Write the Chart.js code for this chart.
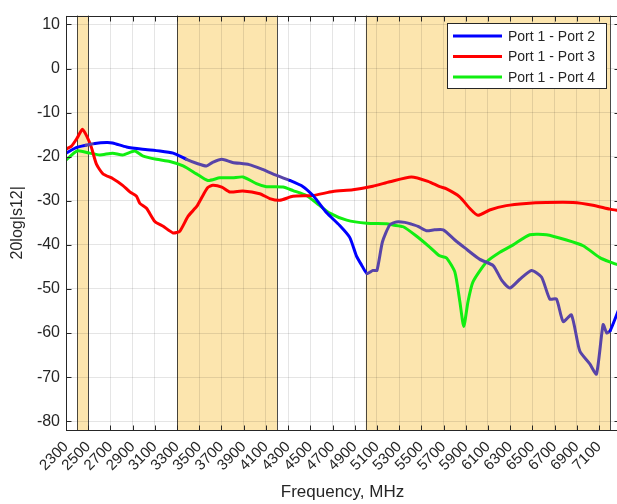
<!DOCTYPE html>
<html>
<head>
<meta charset="utf-8">
<script src="https://cdn.jsdelivr.net/npm/chart.js@4/dist/chart.umd.min.js"></script>
<style>
  html, body { margin: 0; padding: 0; background: #fff; overflow: hidden; }
  canvas { display: block; }
</style>
</head>
<body>
<canvas id="c" width="625" height="504"></canvas>
<script>
// frequency bands shaded in the plot (MHz)
const bands = [ [ 2400, 2500 ], [ 3300, 4200 ], [ 5000, 7200 ] ];

const xTicks = [];
for ( let f = 2300; f <= 7100; f += 200 ) xTicks.push( f );
const yTicks = [ -80, -70, -60, -50, -40, -30, -20, -10, 0, 10 ];

const p2Freq = [ 2300, 2397, 2480, 2560, 2665, 2720, 2845, 2990, 3145, 3265, 3385, 3475, 3565, 3620, 3703, 3800, 3950, 4070, 4162, 4315, 4435, 4525, 4560, 4650, 4765, 4855, 4915, 4960, 5010, 5065, 5100, 5150, 5215, 5275, 5352, 5410, 5470, 5545, 5620, 5697, 5802, 5892, 6027, 6147, 6223, 6297, 6387, 6492, 6582, 6657, 6717, 6777, 6852, 6927, 7017, 7077, 7137, 7170, 7200, 7280 ];
const p2Db = [ -19.2, -17.9, -17.4, -17.0, -16.8, -16.9, -17.8, -18.3, -18.7, -19.2, -20.6, -21.5, -22.1, -21.3, -20.6, -21.3, -21.8, -22.9, -23.9, -25.4, -26.8, -28.8, -29.9, -32.8, -35.6, -38.3, -42.5, -44.5, -46.5, -45.8, -45.8, -39.3, -35.5, -34.8, -34.9, -35.3, -35.8, -36.8, -36.6, -36.6, -38.9, -40.7, -43.3, -44.7, -48.0, -49.8, -47.8, -45.8, -47.3, -52.3, -52.3, -57.4, -55.9, -64.1, -67.0, -69.3, -58.1, -60.0, -59.5, -54.5 ];

const p3Freq = [ 2300, 2350, 2400, 2448, 2490, 2529, 2574, 2633, 2723, 2810, 2875, 2935, 2965, 3025, 3100, 3175, 3265, 3325, 3400, 3477, 3533, 3577, 3622, 3703, 3775, 3892, 4045, 4135, 4225, 4343, 4523, 4703, 4883, 5063, 5215, 5410, 5560, 5665, 5727, 5845, 5935, 6010, 6115, 6265, 6445, 6625, 6865, 7045, 7200, 7280 ];
const p3Db = [ -18.3, -17.6, -15.8, -13.8, -15.5, -17.9, -21.7, -23.9, -25.0, -26.5, -28.0, -29.0, -30.6, -31.7, -34.7, -35.8, -37.3, -36.9, -33.5, -31.3, -28.8, -27.0, -26.5, -26.9, -28.0, -27.8, -28.4, -29.5, -29.9, -29.0, -28.8, -27.9, -27.5, -26.7, -25.7, -24.6, -25.6, -26.8, -27.3, -29.1, -31.7, -33.3, -32.1, -31.1, -30.6, -30.4, -30.4, -31.0, -31.9, -32.2 ];

const p4Freq = [ 2300, 2400, 2515, 2605, 2720, 2810, 2920, 2990, 3115, 3235, 3355, 3475, 3577, 3685, 3800, 3895, 4015, 4105, 4255, 4345, 4465, 4580, 4675, 4828, 5008, 5188, 5245, 5337, 5455, 5575, 5665, 5727, 5802, 5847, 5882, 5920, 5965, 6087, 6207, 6327, 6477, 6627, 6807, 6957, 7107, 7200, 7280 ];
const p4Db = [ -20.8, -18.7, -19.2, -19.6, -19.2, -19.6, -18.7, -19.8, -20.6, -21.1, -22.1, -23.9, -25.4, -24.8, -24.8, -24.6, -26.1, -26.8, -26.9, -27.7, -28.8, -31.0, -32.8, -34.4, -35.1, -35.2, -35.5, -35.9, -38.0, -40.5, -42.5, -43.0, -46.2, -52.9, -58.5, -52.9, -48.4, -43.9, -41.7, -40.0, -37.7, -37.7, -38.9, -40.2, -42.9, -43.9, -44.6 ];

const names = [ 'Port 1 - Port 2', 'Port 1 - Port 3', 'Port 1 - Port 4' ];
const colors = [ '#0000ff', '#ff0000', '#11ee11' ];
const p2BandColor = '#5844a8';   // port 2 trace looks purple inside the shaded bands

const FONT = "'Liberation Sans', Arial, sans-serif";
const INK = '#262626';
const bandFill = '#fce5ae';

const pts = ( fs, vs ) => fs.map( ( f, i ) => ( { x: f, y: vs[ i ] } ) );
const inBand = f => bands.some( ( [ a, b ] ) => f >= a && f < b );

const shade = {
    id: 'shade',
    beforeDraw( chart ) {
        const { ctx, chartArea: a, scales: { x } } = chart;
        ctx.save();
        ctx.beginPath();
        ctx.rect( a.left, a.top, a.right - a.left, a.bottom - a.top );
        ctx.clip();
        ctx.fillStyle = bandFill;
        bands.forEach( ( [ b0, b1 ] ) => {
            const x0 = x.getPixelForValue( b0 );
            ctx.fillRect( x0, a.top, x.getPixelForValue( b1 ) - x0, a.bottom - a.top );
        } );
        ctx.restore();
    },
    beforeDatasetsDraw( chart ) {
        const { ctx, chartArea: a, scales: { x } } = chart;
        ctx.save();
        ctx.strokeStyle = 'rgba(30,30,30,0.8)';
        ctx.lineWidth = 1;
        ctx.beginPath();
        bands.forEach( b => b.forEach( v => {
            const px = Math.round( x.getPixelForValue( v ) ) + 0.5;
            if ( px > a.right ) return;
            ctx.moveTo( px, a.top );
            ctx.lineTo( px, a.bottom );
        } ) );
        ctx.stroke();
        ctx.restore();
    },
    afterDatasetsDraw( chart ) {
        const { ctx, chartArea: a, scales: { x, y } } = chart;

        // axes box and inward ticks
        ctx.save();
        ctx.strokeStyle = INK;
        ctx.lineWidth = 1;
        const L = Math.round( a.left ) + 0.5, R = Math.round( a.right ) + 0.5;
        const T = Math.round( a.top ) + 0.5, B = Math.round( a.bottom ) + 0.5;
        ctx.strokeRect( L, T, R - L, B - T );
        ctx.beginPath();
        x.ticks.forEach( t => {
            const px = Math.round( x.getPixelForValue( t.value ) ) + 0.5;
            ctx.moveTo( px, B ); ctx.lineTo( px, B - 5 );
            ctx.moveTo( px, T ); ctx.lineTo( px, T + 5 );
        } );
        y.ticks.forEach( t => {
            const py = Math.round( y.getPixelForValue( t.value ) ) + 0.5;
            ctx.moveTo( L, py ); ctx.lineTo( L + 5, py );
            ctx.moveTo( R, py ); ctx.lineTo( R - 5, py );
        } );
        ctx.stroke();

        // legend box
        const lx = 447.5, ly = 23.5, lw = 159, lh = 65;
        ctx.fillStyle = '#fff';
        ctx.fillRect( lx, ly, lw, lh );
        ctx.strokeStyle = INK;
        ctx.strokeRect( lx, ly, lw, lh );
        ctx.font = '14px ' + FONT;
        ctx.textBaseline = 'middle';
        ctx.textAlign = 'left';
        names.forEach( ( n, i ) => {
            const ry = 36 + i * 20.5;
            ctx.strokeStyle = colors[ i ];
            ctx.lineWidth = 3;
            ctx.beginPath();
            ctx.moveTo( 453, ry );
            ctx.lineTo( 502, ry );
            ctx.stroke();
            ctx.fillStyle = INK;
            ctx.fillText( n, 508, ry + 1 );
        } );
        ctx.restore();
    }
};

new Chart( document.getElementById( 'c' ), {
    type: 'line',
    data: {
        datasets: [
            {
                label: names[ 0 ],
                data: pts( p2Freq, p2Db ),
                borderColor: colors[ 0 ],
                segment: { borderColor: s => inBand( s.p0.parsed.x ) ? p2BandColor : colors[ 0 ] }
            },
            { label: names[ 1 ], data: pts( p3Freq, p3Db ), borderColor: colors[ 1 ] },
            { label: names[ 2 ], data: pts( p4Freq, p4Db ), borderColor: colors[ 2 ] }
        ]
    },
    options: {
        responsive: false,
        animation: false,
        events: [],
        layout: { padding: { top: 9, right: 6, left: 0, bottom: 0 } },
        elements: {
            point: { radius: 0 },
            line: { borderWidth: 3, tension: 0.2, fill: false, borderCapStyle: 'round', borderJoinStyle: 'round' }
        },
        plugins: { legend: { display: false }, tooltip: { enabled: false } },
        scales: {
            x: {
                type: 'linear',
                min: 2300,
                max: 7280,
                afterBuildTicks: s => { s.ticks = xTicks.map( v => ( { value: v } ) ); },
                afterFit: s => { s.height = 74; },
                grid: { color: 'rgba(0,0,0,0.1)', drawTicks: false },
                border: { display: false },
                ticks: {
                    color: INK,
                    font: { family: FONT, size: 15 },
                    minRotation: 45,
                    maxRotation: 45,
                    padding: 8,
                    autoSkip: false,
                    callback: v => String( v )
                },
                title: {
                    display: true,
                    text: 'Frequency, MHz',
                    color: INK,
                    font: { family: FONT, size: 17, lineHeight: 1.2 },
                    padding: { top: 0, bottom: 1 }
                }
            },
            y: {
                min: -82,
                max: 12,
                afterBuildTicks: s => { s.ticks = yTicks.map( v => ( { value: v } ) ); },
                afterFit: s => { s.width = 66; },
                grid: { color: 'rgba(0,0,0,0.1)', drawTicks: false },
                border: { display: false },
                ticks: {
                    color: INK,
                    font: { family: FONT, size: 16 },
                    padding: 6,
                    callback: v => String( v )
                },
                title: {
                    display: true,
                    text: '20log|s12|',
                    color: INK,
                    font: { family: FONT, size: 16, lineHeight: 1.2 },
                    padding: { top: 8, bottom: 0 }
                }
            }
        }
    },
    plugins: [ shade ]
} );
</script>
</body>
</html>
